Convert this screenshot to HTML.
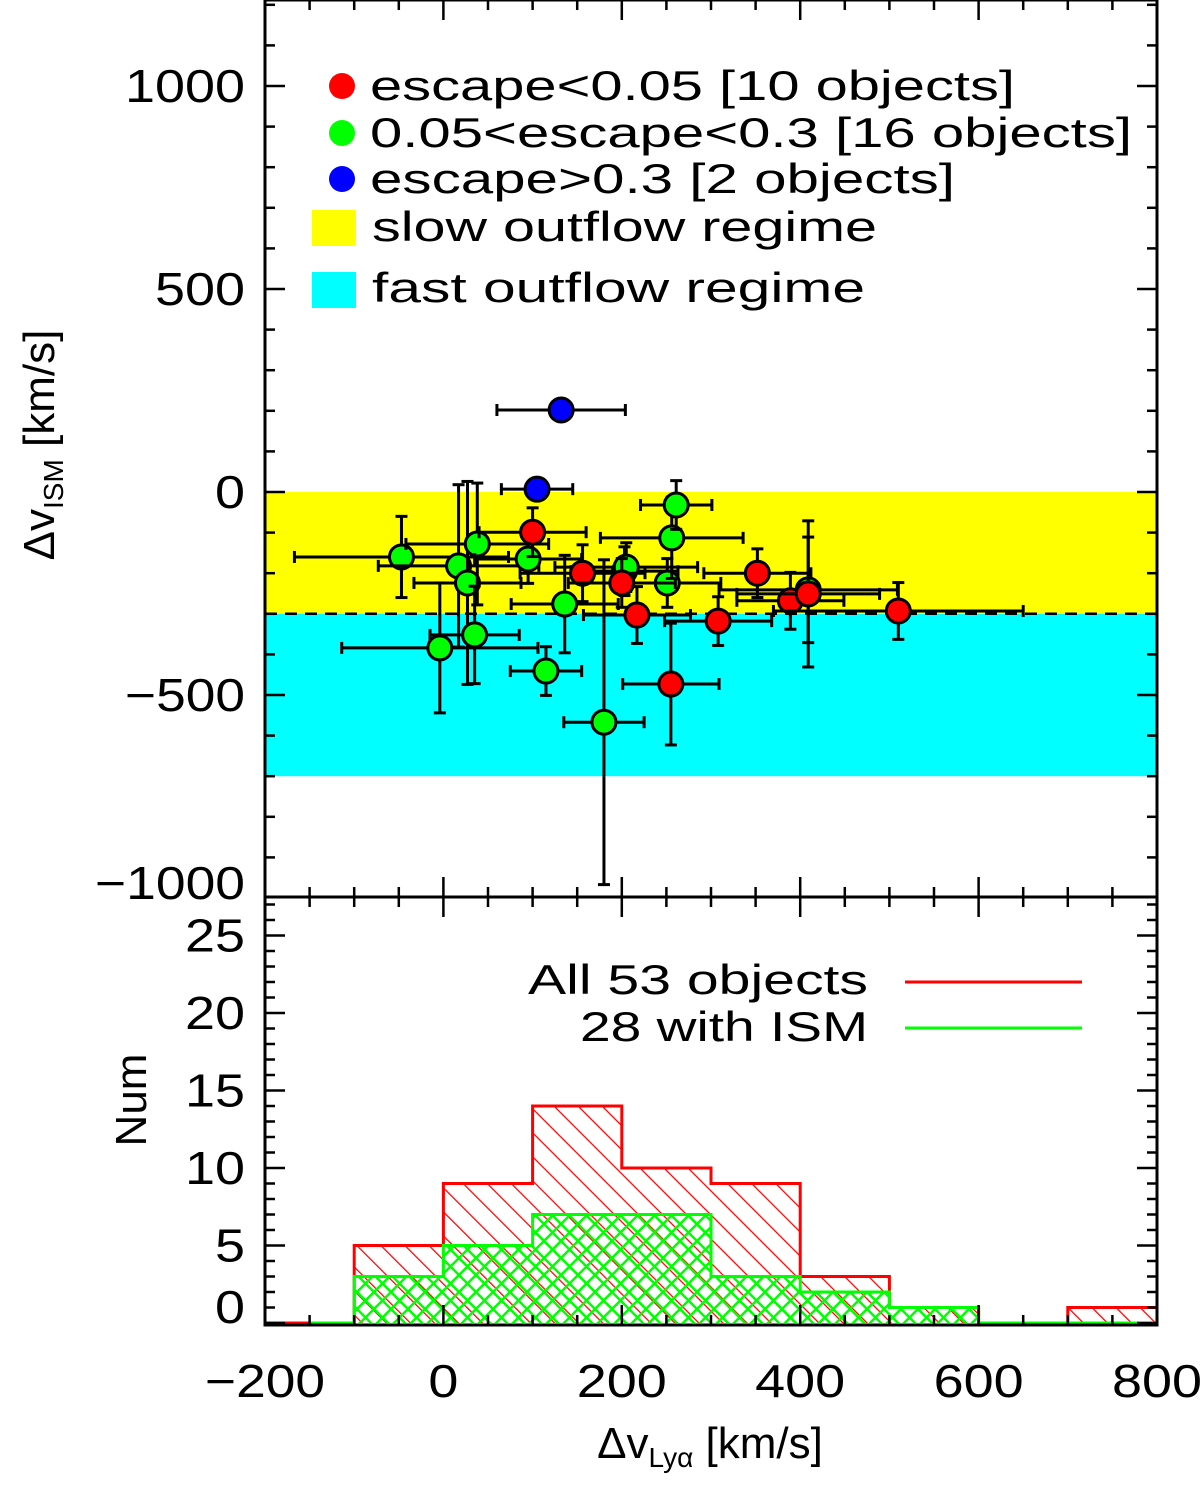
<!DOCTYPE html>
<html><head><meta charset="utf-8"><style>
body{margin:0;background:#fff}
svg text{font-family:"Liberation Sans",sans-serif;fill:#000}
</style></head><body>
<svg id="chart" width="1200" height="1480" viewBox="0 0 1200 1480" xmlns="http://www.w3.org/2000/svg">
<defs>
<pattern id="hr" patternUnits="userSpaceOnUse" width="17" height="17" patternTransform="rotate(-45)"><line x1="0" y1="0" x2="0" y2="17" stroke="#f00" stroke-width="2.5"/></pattern>
<pattern id="hg" patternUnits="userSpaceOnUse" width="17" height="17"><path d="M0,0L17,17M17,0L0,17" stroke="#0f0" stroke-width="2.5"/></pattern>
<clipPath id="clipTop"><rect x="265" y="0" width="892" height="897"/></clipPath>
</defs>
<g id="gtop" clip-path="url(#clipTop)"></g>
<g id="gbot"></g>
<g id="gaxes"></g>
</svg>
<script>
const NS='http://www.w3.org/2000/svg';
// ---- data ----
const redX=[100,156,200,217,255,308,352,389,409,510];
const redY=[-99,-200,-224,-303,-473,-318,-200,-268,-251,-293];
const redXerr=[60,70,60,60,54,60,60,60,80,140];
const redYerr=[60,70,60,70,150,60,60,70,180,70];
const greenX=[-47,-4,17,27,38,35,95,115,136,180,203,251,256,261,409,205];
const greenY=[-160,-384,-182,-224,-128,-352,-165,-441,-276,-567,-195,-224,-113,-32,-241,-185];
const greenXerr=[120,110,90,60,80,50,60,40,60,45,60,60,80,40,100,80];
const greenYerr=[100,160,200,250,150,120,60,60,120,400,60,60,100,60,130,60];
const blueX=[132,105];
const blueY=[202,7];
const blueXerr=[72,40];
const blueYerr=[0,0];
const binEdges=[-200,-100,0,100,200,300,400,500,600,700,800];
const histAll=[0,5,9,14,10,9,3,1,0,1];
const histISM=[0,3,5,7,7,3,2,1,0,0];
const xTicks=[-200,0,200,400,600,800];
const yTopTicks=[-1000,-500,0,500,1000];
const yBotTicks=[0,5,10,15,20,25];
// ---- scales ----
const X=v=>443.4+v*0.892;
const YT=v=>492-v*0.406;
const YB=v=>1323-v*15.5;
function el(tag,attrs,parent){const e=document.createElementNS(NS,tag);for(const k in attrs)e.setAttribute(k,attrs[k]);parent.appendChild(e);return e;}
const gTop=document.getElementById('gtop'),gBot=document.getElementById('gbot'),gAxes=document.getElementById('gaxes');
let b=el('rect',{x:265,y:YT(0),width:892,height:YT(-300)-YT(0),fill:'#ff0'},gTop);


b=el('rect',{x:265,y:YT(-300),width:892,height:YT(-700)-YT(-300),fill:'#0ff'},gTop);


b=el('line',{x1:265,x2:1157,y1:YT(-300),y2:YT(-300),stroke:'#000','stroke-width':2.5,'stroke-dasharray':'12,8'},gTop);


function drawSeries(xs,ys,xe,ye,color,name){
  for(let i=0;i<xs.length;i++){
    const g=el('g',{},gTop);
    
    
    const cx=X(xs[i]),cy=YT(ys[i]);
    const x0=X(xs[i]-xe[i]),x1=X(xs[i]+xe[i]);
    el('line',{x1:x0,x2:x1,y1:cy,y2:cy,stroke:'#000','stroke-width':3},g);
    el('line',{x1:x0,x2:x0,y1:cy-6,y2:cy+6,stroke:'#000','stroke-width':3},g);
    el('line',{x1:x1,x2:x1,y1:cy-6,y2:cy+6,stroke:'#000','stroke-width':3},g);
    if(ye[i]>0){const y0=YT(ys[i]+ye[i]),y1=YT(ys[i]-ye[i]);
      el('line',{x1:cx,x2:cx,y1:y0,y2:y1,stroke:'#000','stroke-width':3},g);
      el('line',{x1:cx-6,x2:cx+6,y1:y0,y2:y0,stroke:'#000','stroke-width':3},g);
      el('line',{x1:cx-6,x2:cx+6,y1:y1,y2:y1,stroke:'#000','stroke-width':3},g);}
    el('circle',{cx:cx,cy:cy,r:12,fill:color,stroke:'#000','stroke-width':3},g);
  }
}
drawSeries(greenX,greenY,greenXerr,greenYerr,'#0f0','green');
drawSeries(redX,redY,redXerr,redYerr,'#f00','red');
drawSeries(blueX,blueY,blueXerr,blueYerr,'#00f','blue');
function hist(vals,fill,stroke,name,startVal){
  let fillPath='';
  for(let i=0;i<vals.length;i++){if(vals[i]>0){fillPath+=`M${X(binEdges[i])},${YB(0)}V${YB(vals[i])}H${X(binEdges[i+1])}V${YB(0)}Z`;}}
  let p=el('path',{d:fillPath||'M0,0',fill:fill,stroke:'none'},gBot);
  
  
  let d=`M${X(startVal)},${YB(vals[0])}`;
  for(let i=0;i<vals.length;i++){d+=`V${YB(vals[i])}H${X(binEdges[i+1])}`;}
  p=el('path',{d:d,fill:'none',stroke:stroke,'stroke-width':3},gBot);
  
  
}
hist(histAll,'url(#hr)','#f00','hist-all',-200);
hist(histISM,'url(#hg)','#0f0','hist-ism',-150);
b=el('rect',{x:265,y:0,width:892,height:897,fill:'none',stroke:'#000','stroke-width':3},gAxes);


b=el('rect',{x:265,y:897,width:892,height:428,fill:'none',stroke:'#000','stroke-width':3},gAxes);


function tk(x1,y1,x2,y2){el('line',{x1:x1,y1:y1,x2:x2,y2:y2,stroke:'#000','stroke-width':2.5},gAxes);}
for(let v=-200;v<=800;v+=50){const x=X(v),L=(v%200===0)?20:10;
  tk(x,897,x,897-L);tk(x,0,x,L);tk(x,897,x,897+L);tk(x,1325,x,1325-L);}
for(let v=-1000;v<=1200;v+=100){const y=YT(v);if(y<0||y>897)continue;const L=(v%500===0)?20:10;
  tk(265,y,265+L,y);tk(1157,y,1157-L,y);}
for(let v=0;v<=27;v++){const y=YB(v);const L=(v%5===0)?20:10;tk(265,y,265+L,y);tk(1157,y,1157-L,y);}
function txt(s,x,y,anchor,size,name,extra){const t=el('text',Object.assign({x:x,y:y,'text-anchor':anchor,'font-size':size},extra||{}),gAxes);t.textContent=s;return t;}
function lbl(v){return String(v).replace('-','\u2212');}
function tw(s){return s.length*30;}
yTopTicks.forEach(v=>{const s=lbl(v);const y=Math.min(YT(v)+16,899);txt(s,245,y,'end',46,'y-tick-label',{textLength:tw(s),lengthAdjust:'spacingAndGlyphs'});});
yBotTicks.forEach(v=>{const s=lbl(v);const y=Math.min(YB(v)+16,1323);txt(s,245,y,'end',46,'y-tick-label',{textLength:tw(s),lengthAdjust:'spacingAndGlyphs'});});
xTicks.forEach(v=>{const s=lbl(v);txt(s,X(v),1397,'middle',46,'x-tick-label',{textLength:tw(s),lengthAdjust:'spacingAndGlyphs'});});
let t=el('text',{x:0,y:0,'font-size':44,'text-anchor':'middle',transform:'translate(54,445) rotate(-90)'},gAxes);
t.innerHTML='Δv<tspan font-size="28" dy="9">ISM</tspan><tspan dy="-9"> [km/s]</tspan>';


t=el('text',{x:0,y:0,'font-size':44,'text-anchor':'middle',transform:'translate(146,1100) rotate(-90)'},gAxes);
t.textContent='Num';


t=el('text',{x:710,y:1458,'font-size':44,'text-anchor':'middle'},gAxes);
t.innerHTML='Δv<tspan font-size="28" dy="9">Lyα</tspan><tspan dy="-9"> [km/s]</tspan>';


const leg=[['escape<0.05 [10 objects]','#f00',100,645],['0.05<escape<0.3 [16 objects]','#0f0',147,762],['escape>0.3 [2 objects]','#00f',193,585]];
leg.forEach(l=>{const c=el('circle',{cx:342,cy:l[2]-14,r:13,fill:l[1]},gAxes);


  txt(l[0],370,l[2],'start',42,'legend-entry',{textLength:l[3],lengthAdjust:'spacingAndGlyphs'});});
b=el('rect',{x:312,y:210,width:44,height:36,fill:'#ff0'},gAxes);


txt('slow outflow regime',372,241,'start',42,'legend-entry',{textLength:505,lengthAdjust:'spacingAndGlyphs'});
b=el('rect',{x:312,y:272,width:44,height:36,fill:'#0ff'},gAxes);


txt('fast outflow regime',372,302,'start',42,'legend-entry',{textLength:493,lengthAdjust:'spacingAndGlyphs'});
txt('All 53 objects',868,994,'end',42,'legend-entry',{textLength:340,lengthAdjust:'spacingAndGlyphs'});
txt('28 with ISM',868,1041,'end',42,'legend-entry',{textLength:288,lengthAdjust:'spacingAndGlyphs'});
b=el('line',{x1:905,x2:1082,y1:982,y2:982,stroke:'#f00','stroke-width':3},gAxes);


b=el('line',{x1:905,x2:1082,y1:1028,y2:1028,stroke:'#0f0','stroke-width':3},gAxes);


</script>
</body></html>
